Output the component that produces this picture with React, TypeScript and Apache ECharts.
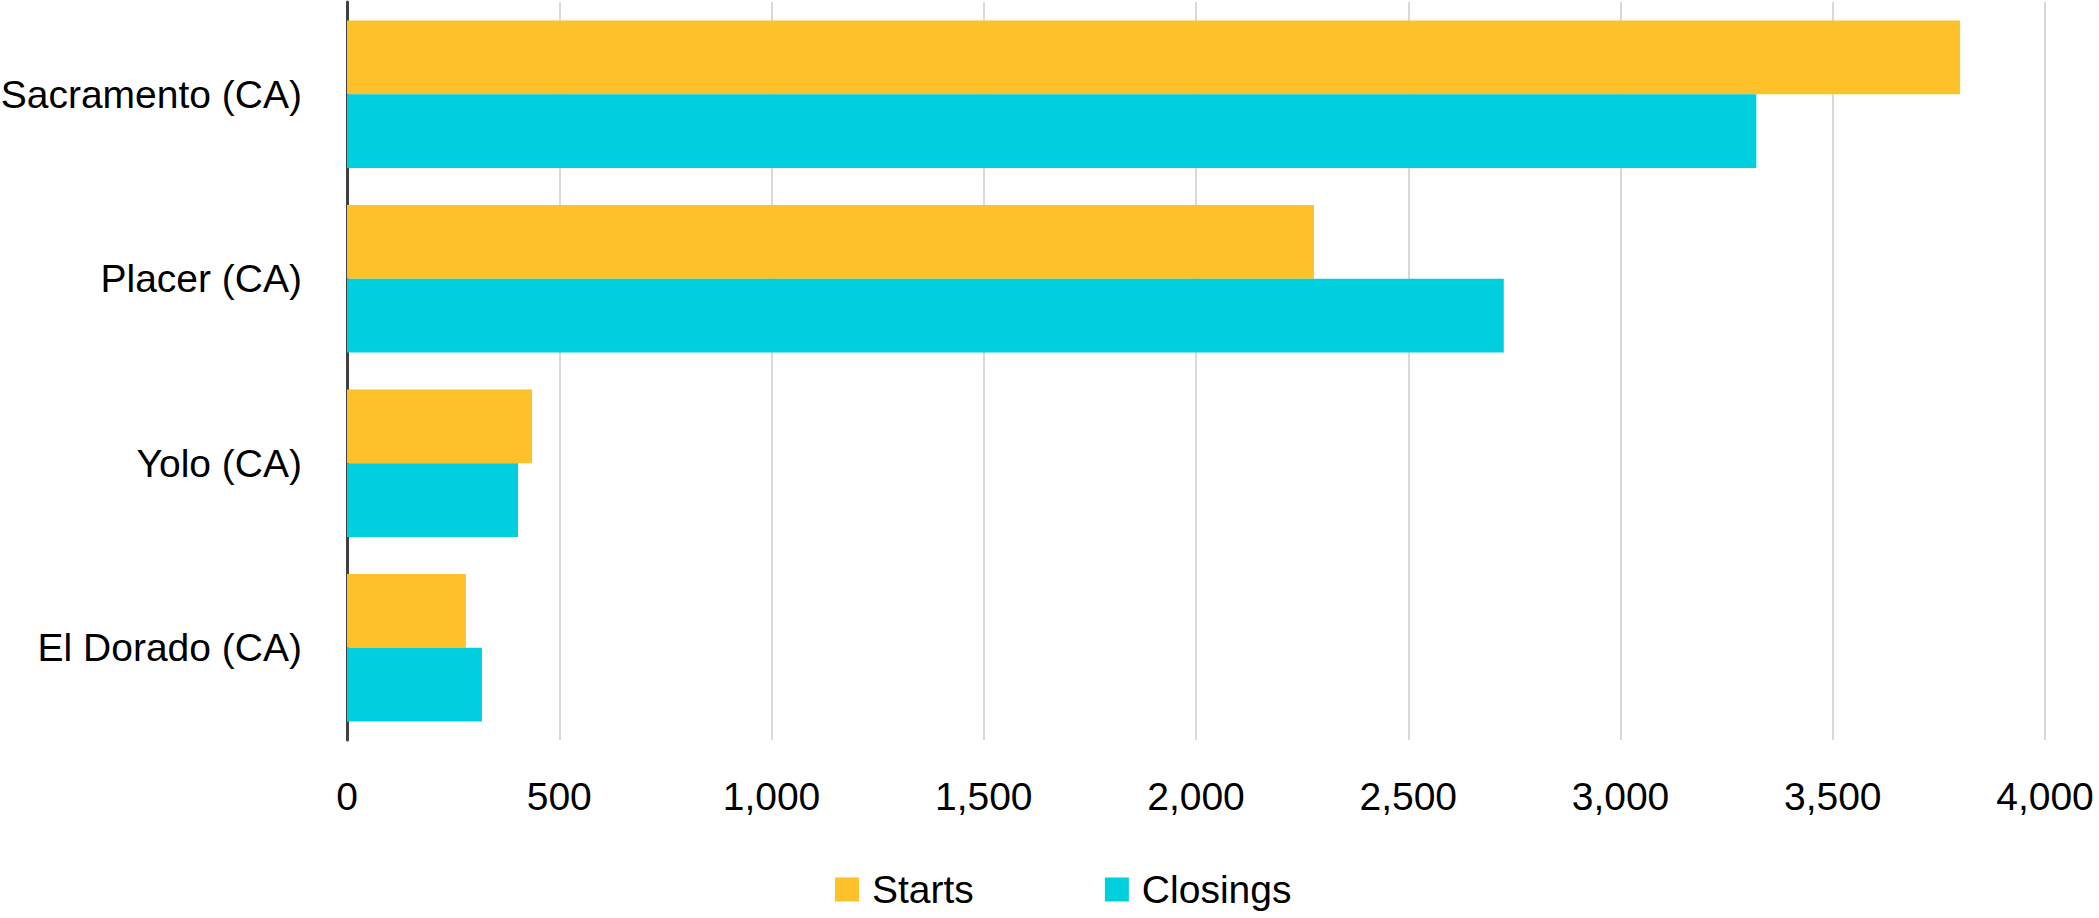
import React, { useEffect, useRef } from "react";
import * as echarts from "echarts";

// Counties (top to bottom) and the two measures per county
const counties = ["Sacramento (CA)", "Placer (CA)", "Yolo (CA)", "El Dorado (CA)"];
const starts = [3800, 2278, 436, 280];
const closings = [3320, 2725, 403, 318];
const seriesNames = ["Starts", "Closings"];
const colors = ["#FDC12A", "#00CFDE"];

const FONT = "'Liberation Sans Narrow', 'Arial Narrow', 'Liberation Sans', Arial, sans-serif";
const FONT_SIZE = 39;

export default function App() {
  const ref = useRef<HTMLDivElement>(null);

  useEffect(() => {
    if (!ref.current) return;
    const chart = echarts.init(ref.current, undefined, { renderer: "svg" });
    chart.setOption({
      animation: false,
      backgroundColor: "#ffffff",
      grid: {
        left: 347,
        right: 54,
        top: 2,
        height: 738,
        containLabel: false,
        outerBoundsMode: "none",
      },
      legend: {
        data: seriesNames,
        left: 835,
        top: 870,
        padding: 0,
        itemWidth: 24,
        itemHeight: 24,
        itemGap: 131,
        icon: "rect",
        textStyle: { fontFamily: FONT, fontSize: FONT_SIZE, color: "#000", padding: [0, 0, 0, 8] },
      },
      xAxis: {
        type: "value",
        min: 0,
        max: 4000,
        interval: 500,
        axisLine: { show: false },
        axisTick: { show: false },
        splitLine: { show: true, lineStyle: { color: "#D9D9D9", width: 2 } },
        axisLabel: {
          fontFamily: FONT,
          fontSize: FONT_SIZE,
          color: "#000",
          margin: 37,
          formatter: (v: number) => v.toLocaleString("en-US"),
        },
      },
      yAxis: {
        type: "category",
        data: counties,
        inverse: true,
        axisLine: { show: true, lineStyle: { color: "#404040", width: 3 } },
        axisTick: { show: false },
        axisLabel: { fontFamily: FONT, fontSize: FONT_SIZE, color: "#000", margin: 45 },
      },
      series: [
        {
          name: seriesNames[0],
          type: "bar",
          data: starts,
          itemStyle: { color: colors[0] },
          barGap: "0%",
          barCategoryGap: "20%",
        },
        {
          name: seriesNames[1],
          type: "bar",
          data: closings,
          itemStyle: { color: colors[1] },
          barGap: "0%",
          barCategoryGap: "20%",
        },
      ],
    });
    return () => chart.dispose();
  }, []);

  return (
    <div
      ref={ref}
      style={{ position: "fixed", left: 0, top: 0, width: 2099, height: 918, background: "#fff" }}
    />
  );
}
